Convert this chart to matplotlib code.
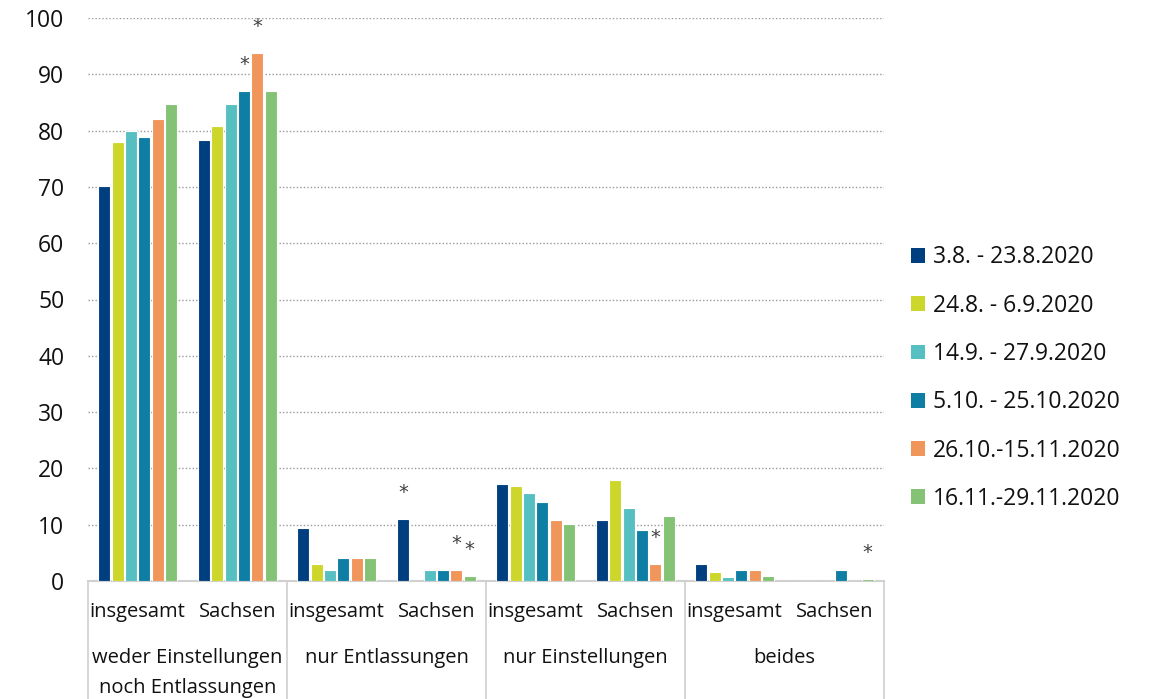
import matplotlib
matplotlib.use('Agg')
import matplotlib.pyplot as plt
from matplotlib.patches import Patch
import numpy as np

plt.rcParams['font.family'] = ['Open Sans', 'DejaVu Sans']

# categories (inner level / outer level)
sub_labels = ['insgesamt', 'Sachsen'] * 4
group_labels = ['weder Einstellungen\nnoch Entlassungen', 'nur Entlassungen',
                'nur Einstellungen', 'beides']

series_names = ['3.8. - 23.8.2020', '24.8. - 6.9.2020', '14.9. - 27.9.2020',
                '5.10. - 25.10.2020', '26.10.-15.11.2020', '16.11.-29.11.2020']
colors = ['#003F7F', '#CDD62B', '#56BFC1', '#0E7EA5', '#F0965A', '#84C275']

# values per series, one entry per category (nan = no bar)
s1 = [70.2, 78.4, 9.5, 11.0, 17.3, 10.9, 3.0, 0.0]
s2 = [78.0, 80.9, 3.0, np.nan, 16.8, 18.0, 1.6, 0.0]
s3 = [79.9, 84.8, 2.0, 2.0, 15.7, 13.0, 0.7, 0.0]
s4 = [78.8, 87.0, 4.1, 2.0, 14.0, 9.1, 2.0, 2.0]
s5 = [82.0, 93.8, 4.1, 2.0, 10.9, 3.0, 2.0, 0.0]
s6 = [84.8, 87.0, 4.1, 0.9, 10.2, 11.5, 0.8, 0.4]
values = [s1, s2, s3, s4, s5, s6]

# asterisks: (category index, series index)
star_cat = [1, 1, 3, 3, 3, 5, 7]
star_ser = [3, 4, 0, 4, 5, 4, 5]

fig = plt.figure(figsize=(11.56, 6.99), dpi=100)
ax = fig.add_axes([88 / 1156, 118 / 699, 796 / 1156, 563 / 699])

x = np.arange(len(sub_labels))
step = 0.134
bw = 0.12
for j, vals in enumerate(values):
    ax.bar(x + (j - 2.5) * step, vals, width=bw, color=colors[j],
           edgecolor='white', linewidth=0.8, zorder=3)

for c, s in zip(star_cat, star_ser):
    v = values[s][c]
    ax.text(c + (s - 2.5) * step, v + 3.0, '*', ha='center', va='bottom',
            fontsize=14, color='#404040', family='DejaVu Sans', zorder=4)

ax.set_xlim(-0.5, len(sub_labels) - 0.5)
ax.set_ylim(0, 100)
ax.set_yticks(np.arange(0, 101, 10))
ax.tick_params(axis='y', length=0, labelsize=16.5, pad=17, labelcolor='#111111')
ax.set_xticks([])
for yv in range(10, 101, 10):
    ax.axhline(yv, color='#999999', linestyle=(0, (1, 1.5)), linewidth=1, zorder=1)
for sp in ['top', 'right', 'left']:
    ax.spines[sp].set_visible(False)
ax.spines['bottom'].set_color('#D0D0D0')
ax.spines['bottom'].set_linewidth(1.5)

# two-level category axis
trans = ax.get_xaxis_transform()
for b in range(0, 9, 2):
    ax.plot([b - 0.5, b - 0.5], [0, -0.215], transform=trans, color='#D0D0D0',
            linewidth=1.2, clip_on=False)
for i, lab in enumerate(sub_labels):
    ax.text(i, -0.055, lab, transform=trans, ha='center', va='center',
            fontsize=14.5, color='#111111')
for g, lab in enumerate(group_labels):
    for k, line in enumerate(lab.split('\n')):
        ax.text(2 * g + 0.5, -0.137 - k * 0.053, line, transform=trans,
                ha='center', va='center', fontsize=14.5, color='#111111')

handles = [Patch(facecolor=c, edgecolor='none') for c in colors]
fig.legend(handles, series_names, loc='center left', bbox_to_anchor=(911 / 1156, 0.459),
           frameon=False, fontsize=16.5, handlelength=0.61, handleheight=0.61,
           handletextpad=0.35, labelspacing=1.06, borderpad=0, borderaxespad=0,
           labelcolor='#111111')

fig.savefig('out.png', dpi=100, facecolor='white')
